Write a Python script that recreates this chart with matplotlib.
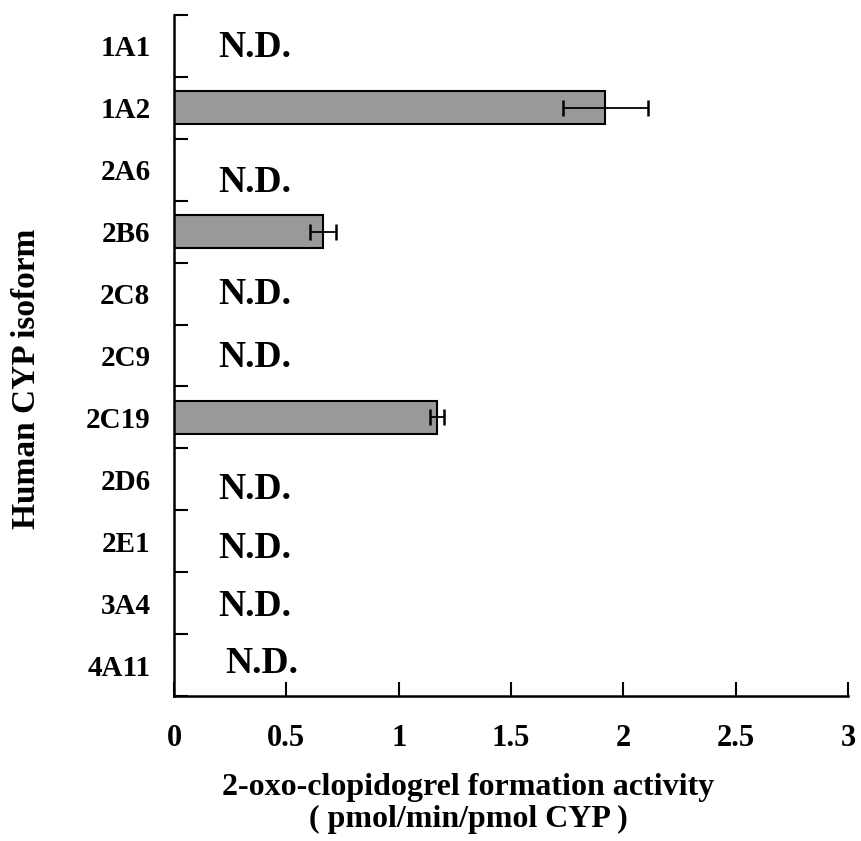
import matplotlib
matplotlib.use('Agg')
import matplotlib.pyplot as plt
import numpy as np

matplotlib.rcParams['font.family'] = 'Liberation Serif'
matplotlib.rcParams['font.weight'] = 'bold'

# data
isoforms = ['1A1', '1A2', '2A6', '2B6', '2C8', '2C9', '2C19', '2D6', '2E1', '3A4', '4A11']
activity = [0, 1.92, 0, 0.665, 0, 0, 1.17, 0, 0, 0, 0]
sd = [0, 0.19, 0, 0.058, 0, 0, 0.03, 0, 0, 0, 0]
detected = [False, True, False, True, False, False, True, False, False, False, False]
# where the N.D. notes sit (x in data units, y as category offset)
nd_x = [0.196, 0, 0.196, 0, 0.196, 0.196, 0, 0.196, 0.196, 0.196, 0.227]
nd_y = [0.02, 0, 2.21, 0, 4.01, 5.03, 0, 7.17, 8.11, 9.06, 9.97]
xticks = [0, 0.5, 1, 1.5, 2, 2.5, 3]
xticklabels = ['0', '0.5', '1', '1.5', '2', '2.5', '3']

fig = plt.figure(figsize=(8.62, 8.41), dpi=100)
ax = fig.add_axes([0.2019, 0.1724, 0.7819, 0.8098])

ypos = np.arange(len(isoforms))
vals = [a if d else 0 for a, d in zip(activity, detected)]
ax.barh(ypos, vals, height=0.53, color='#999999', edgecolor='black', linewidth=1.5)
for i in range(len(isoforms)):
    if detected[i]:
        ax.errorbar(activity[i], ypos[i], xerr=sd[i], fmt='none', ecolor='black',
                    elinewidth=1.3, capsize=6, capthick=1.8)
    else:
        ax.text(nd_x[i], nd_y[i], 'N.D.', fontsize=27, fontweight='bold',
                ha='left', va='center')

ax.set_xlim(0, 3)
ax.set_ylim(len(isoforms) - 0.5, -0.5)
ax.set_xticks(xticks)
ax.set_xticklabels(xticklabels, fontsize=22, fontweight='bold')
ax.set_yticks(np.arange(len(isoforms) + 1) - 0.5)
ax.set_yticklabels([])
ax.set_yticks(ypos, minor=True)
ax.set_yticklabels(isoforms, minor=True, fontsize=21, fontweight='bold')
ax.tick_params(axis='y', which='minor', length=0, pad=17)
ax.tick_params(axis='y', which='major', direction='in', length=10, width=1.5)
ax.tick_params(axis='x', which='major', direction='in', length=10, width=1.5, pad=20)

ax.spines['right'].set_visible(False)
ax.spines['top'].set_visible(False)
ax.spines['left'].set_linewidth(1.8)
ax.spines['bottom'].set_linewidth(1.8)

ax.set_xlabel('2-oxo-clopidogrel formation activity\n( pmol/min/pmol CYP )',
              fontsize=23, fontweight='bold', linespacing=1.15)
ax.xaxis.set_label_coords(0.436, -0.113)
ax.set_ylabel('Human CYP isoform', fontsize=24, fontweight='bold')
ax.yaxis.set_label_coords(-0.196, 0.466)

plt.savefig('out.png', dpi=100)
